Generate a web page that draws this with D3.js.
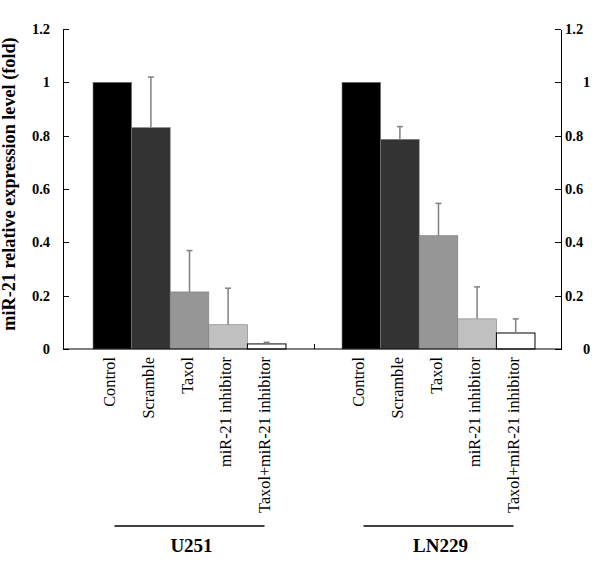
<html>
<head>
<meta charset="utf-8">
<title>miR-21 expression</title>
<style>
  body { margin: 0; background: #fff; }
  .axis path, .axis line { fill: none; stroke: #000; stroke-width: 1.2px; shape-rendering: crispEdges; }
  .axis text { font-family: "Liberation Serif", "Times New Roman", serif; font-size: 14.5px; font-weight: bold; fill: #000; }
  .cat { font-family: "Liberation Serif", "Times New Roman", serif; font-size: 16.3px; }
  .grp { font-family: "Liberation Serif", "Times New Roman", serif; font-size: 19px; font-weight: bold; }
  .ytitle { font-family: "Liberation Serif", "Times New Roman", serif; font-size: 18.2px; font-weight: bold; }
</style>
</head>
<body>
<script src="https://cdn.jsdelivr.net/npm/d3@7"></script>
<script>
var width = 600, height = 570;

// data
var cellLines = ["U251", "LN229"];
var treatments = ["Control", "Scramble", "Taxol", "miR-21 inhibitor", "Taxol+miR-21 inhibitor"];
var u251Values = [1.0, 0.83, 0.214, 0.091, 0.019];
var u251Errors = [0, 0.19, 0.155, 0.137, 0.006];
var ln229Values = [1.0, 0.786, 0.425, 0.113, 0.060];
var ln229Errors = [0, 0.048, 0.121, 0.120, 0.053];
var yTicks = [0, 0.2, 0.4, 0.6, 0.8, 1, 1.2];
var colors = ["#000000", "#333333", "#969696", "#c0c0c0", "#ffffff"];

var values = [u251Values, ln229Values];
var errors = [u251Errors, ln229Errors];

var plot = {left: 63, right: 561, top: 29, bottom: 349};

var svg = d3.select("body").append("svg")
  .attr("width", width).attr("height", height);

var y = d3.scaleLinear().domain([0, 1.2]).range([plot.bottom, plot.top]);

var x0 = d3.scaleBand()
  .domain(cellLines)
  .range([plot.left + 2, plot.right + 2])
  .paddingInner(0.225)
  .paddingOuter(0.1125);

var x1 = d3.scaleBand()
  .domain(treatments)
  .range([0, x0.bandwidth()]);

var data = [];
cellLines.forEach(function(c, gi) {
  treatments.forEach(function(t, ti) {
    data.push({cell: c, treat: t, ti: ti, v: values[gi][ti], e: errors[gi][ti]});
  });
});

// bars
svg.selectAll(".bar")
  .data(data)
  .enter().append("rect")
  .attr("class", "bar")
  .attr("x", function(d) { return x0(d.cell) + x1(d.treat); })
  .attr("y", function(d) { return y(d.v); })
  .attr("width", x1.bandwidth())
  .attr("height", function(d) { return y(0) - y(d.v); })
  .attr("fill", function(d) { return colors[d.ti]; })
  .attr("stroke", function(d) { return d.ti === 4 ? "#000" : "#7a7a7a"; })
  .attr("stroke-width", function(d) { return d.ti === 4 ? 1 : 0.6; });

// error bars (upper only)
var eb = svg.selectAll(".err")
  .data(data.filter(function(d) { return d.e > 0; }))
  .enter().append("g")
  .attr("class", "err")
  .attr("stroke", "#808080")
  .attr("stroke-width", 1.5);

eb.append("line")
  .attr("x1", function(d) { return x0(d.cell) + x1(d.treat) + x1.bandwidth() / 2; })
  .attr("x2", function(d) { return x0(d.cell) + x1(d.treat) + x1.bandwidth() / 2; })
  .attr("y1", function(d) { return y(d.v); })
  .attr("y2", function(d) { return y(d.v + d.e); });

eb.append("line")
  .attr("x1", function(d) { return x0(d.cell) + x1(d.treat) + x1.bandwidth() / 2 - 3; })
  .attr("x2", function(d) { return x0(d.cell) + x1(d.treat) + x1.bandwidth() / 2 + 3; })
  .attr("y1", function(d) { return y(d.v + d.e); })
  .attr("y2", function(d) { return y(d.v + d.e); });

// axes
var yAxisL = d3.axisLeft(y).tickValues(yTicks).tickSizeInner(-6).tickSizeOuter(0).tickPadding(13)
  .tickFormat(function(d) { return d; });
var yAxisR = d3.axisRight(y).tickValues(yTicks).tickSizeInner(-6).tickSizeOuter(0).tickPadding(4)
  .tickFormat(function(d) { return d; });

svg.append("g").attr("class", "axis")
  .attr("transform", "translate(" + plot.left + ",0)")
  .call(yAxisL);

var gr = svg.append("g").attr("class", "axis")
  .attr("transform", "translate(" + plot.right + ",0)")
  .call(yAxisR);
gr.selectAll(".tick text")
  .attr("x", function(d) { return Number.isInteger(d) ? 22 : 4; });

// category axis: baseline and a tick between the two groups
var xAxis = d3.axisBottom(d3.scaleOrdinal().domain(cellLines).range([x0(cellLines[0]) - x0.step() * x0.paddingInner() / 2 + x0.step(), 0]))
  .tickValues([cellLines[0]]).tickSizeInner(-5).tickSizeOuter(0).tickFormat("");
svg.append("line")
  .attr("x1", plot.left).attr("x2", plot.right)
  .attr("y1", y(0)).attr("y2", y(0))
  .attr("stroke", "#000").attr("stroke-width", 1.2);
svg.append("g").attr("class", "axis")
  .attr("transform", "translate(0," + y(0) + ")")
  .call(xAxis)
  .select(".domain").remove();

// rotated treatment labels
svg.selectAll(".cat")
  .data(data)
  .enter().append("text")
  .attr("class", "cat")
  .attr("text-anchor", "end")
  .attr("transform", function(d) {
    var cx = x0(d.cell) + x1(d.treat) + x1.bandwidth() / 2 + 3;
    return "translate(" + cx + ",357) rotate(-90)";
  })
  .text(function(d) { return d.treat; });

// group lines and labels
svg.selectAll(".grpline")
  .data(cellLines)
  .enter().append("line")
  .attr("class", "grpline")
  .attr("x1", function(d) { return x0(d) + x0.bandwidth() / 2 - 75; })
  .attr("x2", function(d) { return x0(d) + x0.bandwidth() / 2 + 75; })
  .attr("y1", 526).attr("y2", 526)
  .attr("stroke", "#000").attr("stroke-width", 1.5);

svg.selectAll(".grp")
  .data(cellLines)
  .enter().append("text")
  .attr("class", "grp")
  .attr("text-anchor", "middle")
  .attr("x", function(d) { return x0(d) + x0.bandwidth() / 2 + 2; })
  .attr("y", 552)
  .text(function(d) { return d; });

// y title
svg.append("text")
  .attr("class", "ytitle")
  .attr("text-anchor", "middle")
  .attr("transform", "translate(15,184) rotate(-90)")
  .text("miR-21 relative expression level (fold)");
</script>
</body>
</html>
